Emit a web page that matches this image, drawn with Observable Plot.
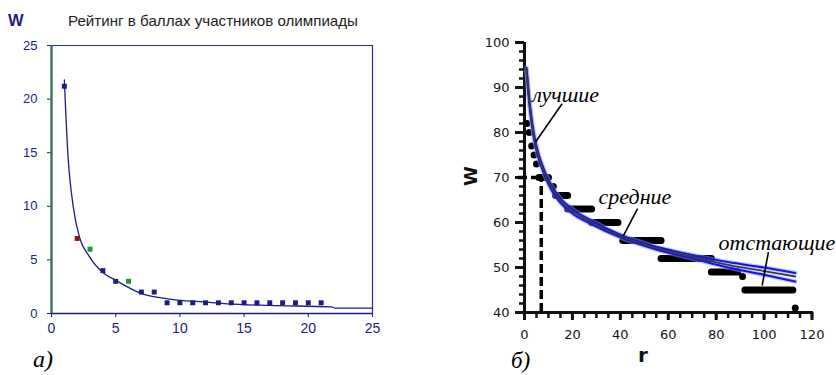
<!DOCTYPE html>
<html>
<head>
<meta charset="utf-8">
<script src="https://cdn.jsdelivr.net/npm/d3@7"></script>
<script src="https://cdn.jsdelivr.net/npm/@observablehq/plot@0.6"></script>
<style>
  html, body { margin: 0; padding: 0; background: #fff; }
  #wrap { position: relative; width: 836px; height: 375px; overflow: hidden; background: #fff; }
  #left { position: absolute; left: 0; top: 0; }
  #right { position: absolute; left: 420px; top: 0; }
  #overlay { position: absolute; left: 0; top: 0; pointer-events: none; }
</style>
</head>
<body>
<div id="wrap">
  <div id="left"></div>
  <div id="right"></div>
</div>
<script>
// ---------- Panel а): olympiad rating ----------
const leftTitle = "Рейтинг в баллах участников олимпиады";
const leftYLabel = "W";
const leftPanelLabel = "а)";
const leftRanks  = [1, 2, 3, 4, 5, 6, 7, 8, 9, 10, 11, 12, 13, 14, 15, 16, 17, 18, 19, 20, 21];
const leftScores = [21.2, 7, 6, 4, 3, 3, 2, 2, 1, 1, 1, 1, 1, 1, 1, 1, 1, 1, 1, 1, 1];
const leftGroups = ["main", "red", "green", "main", "main", "green", "main", "main", "main", "main", "main",
                    "main", "main", "main", "main", "main", "main", "main", "main", "main", "main"];
const leftFitR = [1, 1.27, 1.69, 2.21, 2.9, 4.07, 5, 6.93, 9.5, 11.6, 13.7, 17, 21.8, 22.1, 25];
const leftFitW = [21.8, 15, 10, 7, 5.4, 3.75, 3.1, 1.9, 1.3, 1.1, 0.9, 0.75, 0.62, 0.5, 0.5];
const leftXTicks = [0, 5, 10, 15, 20, 25];
const leftYTicks = [0, 5, 10, 15, 20, 25];

// ---------- Panel б): rank distribution ----------
const rightYLabel = "W";
const rightXLabel = "r";
const rightPanelLabel = "б)";
const stepStart = [1, 2, 3, 4, 5, 6, 12, 13, 18, 28, 41, 57, 78, 91, 92, 113];
const stepEnd   = [1, 2, 3, 4, 5, 10, 12, 18, 28, 39, 57, 78, 89, 91, 112, 113];
const stepW     = [82, 80, 77, 75, 73, 70, 68, 66, 63, 60, 56, 52, 49, 48, 45, 41];
const fitR   = [0.85, 2, 3, 4, 6, 8, 10, 14, 20, 28, 40, 55, 70, 85, 100, 113];
const fitMid = [94, 87, 82.5, 79, 74.5, 71.5, 69, 65.5, 62.5, 60, 57, 54.3, 52.4, 50.6, 49.2, 48];
const fitHi  = [94.4, 87.5, 83, 79.5, 75, 72, 69.5, 66, 63, 60.4, 57.3, 54.6, 52.8, 51.2, 50, 48.8];
const fitLo  = [93.6, 86.5, 82, 78.5, 74, 71, 68.5, 65, 62, 59.6, 56.7, 54, 52, 50, 48.4, 46.9];
const refW = 70;       // dashed reference level
const refR = 7;        // dashed reference rank
const annLabels = ["лучшие", "средние", "отстающие"];
const annTextR  = [3.2, 30.9, 81];
const annTextW  = [86.8, 64.2, 53.8];
const annFromR  = [15.7, 47.2, 101.8];
const annFromW  = [86.4, 63.1, 53.4];
const annToR    = [4.6, 41.3, 99.2];
const annToW    = [77.9, 57.1, 46.0];
const rightXMajor = [0, 20, 40, 60, 80, 100, 120];
const rightXMinor = d3.range(0, 121, 5);
const rightYMajor = [40, 50, 60, 70, 80, 90, 100];
const rightYMinor = d3.range(40, 101, 2);

// ---------- build tables ----------
const leftPoints = leftRanks.map((r, i) => ({r, w: leftScores[i], g: leftGroups[i]}));
const leftFit = leftFitR.map((r, i) => ({r, w: leftFitW[i]}));
const steps = stepW.map((w, i) => ({r1: stepStart[i], r2: stepEnd[i], w}));
const fit = fitR.map((r, i) => ({r, mid: fitMid[i], hi: fitHi[i], lo: fitLo[i]}));
const ann = annLabels.map((t, i) => ({t, x: annTextR[i], y: annTextW[i], x1: annFromR[i], y1: annFromW[i], x2: annToR[i], y2: annToW[i]}));

const navy = "#1c1c84";

const leftPlot = Plot.plot({
  width: 420, height: 375,
  marginLeft: 51, marginRight: 48, marginTop: 45, marginBottom: 62,
  x: {domain: [0, 25]},
  y: {domain: [0, 25]},
  color: {domain: ["main", "red", "green"], range: [navy, "#8e1414", "#1f9a24"]},
  style: {fontFamily: "'Liberation Sans', Arial, sans-serif", color: navy, background: "transparent"},
  marks: [
    Plot.axisY(leftYTicks, {tickSize: 4, tickPadding: 10, fontSize: 13, label: null, stroke: navy}),
    Plot.axisX(leftXTicks, {tickSize: 4, tickPadding: 6, fontSize: 14, label: null, stroke: navy}),
    Plot.ruleY([25], {stroke: "#2a2aa0", strokeWidth: 1.2}),
    Plot.ruleX([25], {stroke: "#2a2aa0", strokeWidth: 1.2}),
    Plot.ruleY([0], {stroke: navy, strokeWidth: 1.6}),
    Plot.ruleX([0], {stroke: "#3b7a5c", strokeWidth: 2.5}),
    Plot.line(leftFit, {x: "r", y: "w", stroke: navy, strokeWidth: 1.3, curve: "monotone-x"}),
    Plot.dot(leftPoints, {x: "r", y: "w", fill: "g", symbol: "square", r: 2.8})
  ]
});
document.getElementById("left").appendChild(leftPlot);

const rightPlot = Plot.plot({
  width: 416, height: 375,
  marginLeft: 104, marginRight: 24.5, marginTop: 42, marginBottom: 63,
  x: {domain: [0, 120]},
  y: {domain: [40, 100]},
  style: {fontFamily: "'DejaVu Sans', Verdana, sans-serif", color: "#151515", background: "transparent"},
  marks: [
    Plot.axisY(rightYMinor, {tickSize: 5, strokeWidth: 2.5, tickFormat: () => "", label: null}),
    Plot.axisY(rightYMajor, {tickSize: 9, strokeWidth: 3, tickPadding: 6, fontSize: 13, label: null}),
    Plot.axisX(rightXMinor, {tickSize: 6, strokeWidth: 2.5, tickFormat: () => "", label: null}),
    Plot.axisX(rightXMajor, {tickSize: 8, strokeWidth: 3, tickPadding: 9, fontSize: 13, label: null}),
    Plot.ruleX([0], {y1: 40, y2: 100, stroke: "#111", strokeWidth: 3}),
    Plot.ruleY([40], {x1: -1, x2: 120.6, stroke: "#111", strokeWidth: 3}),
    Plot.ruleY([refW], {x1: -2.5, x2: refR, stroke: "#000", strokeWidth: 3.5, strokeDasharray: "9,4"}),
    Plot.ruleX([refR], {y1: 40, y2: refW, stroke: "#000", strokeWidth: 3.5, strokeDasharray: "9,4"}),
    Plot.link(steps, {x1: "r1", x2: "r2", y1: "w", y2: "w", stroke: "#000", strokeWidth: 7, strokeLinecap: "round"}),
    Plot.line(fit, {x: "r", y: "hi", stroke: "#8a94ff", strokeWidth: 4.5, strokeOpacity: 0.55, curve: "monotone-x"}),
    Plot.line(fit, {x: "r", y: "lo", stroke: "#8a94ff", strokeWidth: 4.5, strokeOpacity: 0.55, curve: "monotone-x"}),
    Plot.line(fit, {x: "r", y: "hi", stroke: "#1414e6", strokeWidth: 2, curve: "monotone-x"}),
    Plot.line(fit, {x: "r", y: "lo", stroke: "#1414e6", strokeWidth: 2, curve: "monotone-x"}),
    Plot.line(fit, {x: "r", y: "mid", stroke: "#3a3a3a", strokeWidth: 1.8, curve: "monotone-x"}),
    Plot.link(ann, {x1: "x1", y1: "y1", x2: "x2", y2: "y2", stroke: "#000", strokeWidth: 1.6}),
    Plot.text(ann, {x: "x", y: "y", text: "t", textAnchor: "start", lineAnchor: "bottom",
      fontSize: 22, fontStyle: "italic", fontFamily: "'Liberation Serif', 'Times New Roman', serif", fill: "#000"})
  ]
});
document.getElementById("right").appendChild(rightPlot);

// ---------- overlay texts (titles, axis names, panel letters) ----------
const svg = d3.select("#wrap").append("svg")
  .attr("id", "overlay").attr("width", 836).attr("height", 375);
svg.append("text").attr("x", 8).attr("y", 26)
  .attr("font-family", "'Liberation Sans', Arial, sans-serif").attr("font-weight", "bold")
  .attr("font-size", 16.5).attr("fill", navy).text(leftYLabel);
svg.append("text").attr("x", 68).attr("y", 26)
  .attr("font-family", "'Liberation Sans', Arial, sans-serif")
  .attr("font-size", 15).attr("fill", "#222")
  .attr("textLength", 290).attr("lengthAdjust", "spacingAndGlyphs").text(leftTitle);
svg.append("text").attr("x", 33).attr("y", 366.5)
  .attr("font-family", "'Liberation Serif', 'Times New Roman', serif").attr("font-style", "italic")
  .attr("font-size", 24).attr("fill", "#000").text(leftPanelLabel);
svg.append("text").attr("transform", "translate(476.5,176) rotate(-90)").attr("text-anchor", "middle")
  .attr("font-family", "'DejaVu Sans', Verdana, sans-serif").attr("font-weight", "bold")
  .attr("font-size", 18).attr("fill", "#111").text(rightYLabel);
svg.append("text").attr("x", 643).attr("y", 361.5).attr("text-anchor", "middle")
  .attr("font-family", "'DejaVu Sans', Verdana, sans-serif").attr("font-weight", "bold")
  .attr("font-size", 20).attr("fill", "#111").text(rightXLabel);
svg.append("text").attr("x", 511).attr("y", 368)
  .attr("font-family", "'Liberation Serif', 'Times New Roman', serif").attr("font-style", "italic")
  .attr("font-size", 23).attr("fill", "#000").text(rightPanelLabel);
</script>
</body>
</html>
